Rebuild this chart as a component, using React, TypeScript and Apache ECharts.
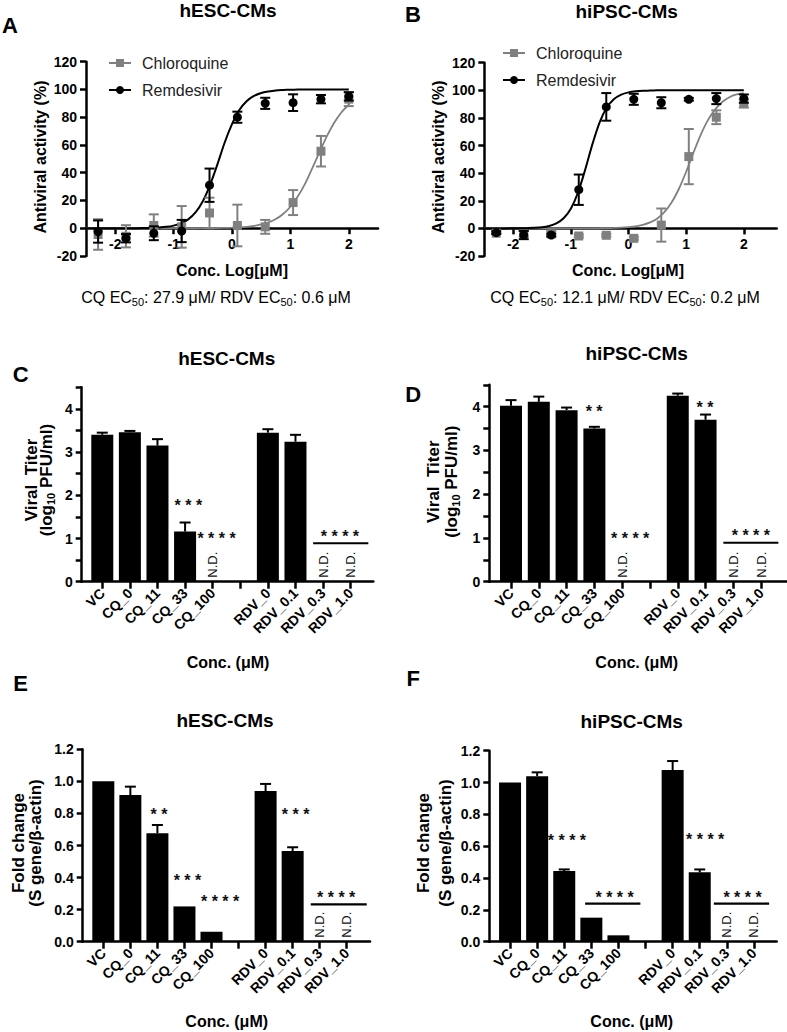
import React, { useEffect, useRef } from "react";
import * as echarts from "echarts";

const FONT = '"Liberation Sans", Arial, Helvetica, sans-serif';
const GRAY = "#808080";

// ---------- Panels A / B : dose response ----------
const LOG_CONC = [-2.293, -1.816, -1.339, -0.862, -0.385, 0.092, 0.569, 1.046, 1.523, 2.0];
const A_CQ_MEAN = [-4.5, -5.8, 2, 1, 11, 2, 1, 18.5, 55.5, 93];
const A_CQ_SD = [11, 8, 8, 15, 11, 15, 5, 9, 11, 5];
const A_RDV_MEAN = [-2.4, -7.2, -3.6, -2, 31, 80, 90, 90.5, 93, 95];
const A_RDV_SD = [8, 3, 5, 8, 12, 4, 4, 6, 3, 3];
const B_CQ_MEAN = [-3.5, -4, -4, -5.5, -5, -7.2, 2.4, 52, 80.5, 90.5];
const B_CQ_SD = [0, 2, 2, 1, 1, 1, 12, 20, 5, 3];
const B_RDV_MEAN = [-3.1, -4.8, -4.8, 28, 88, 93.5, 91, 93.5, 94, 94];
const B_RDV_SD = [1, 3, 1, 11, 10, 4, 4, 1, 4, 3];

// fitted curves
const FIT_X = [-2.5, -2.375, -2.25, -2.125, -2, -1.875, -1.75, -1.625, -1.5, -1.375, -1.25, -1.125, -1, -0.875, -0.75, -0.625, -0.5, -0.375, -0.25, -0.125, 0, 0.125, 0.25, 0.375, 0.5, 0.625, 0.75, 0.875, 1, 1.125, 1.25, 1.375, 1.5, 1.625, 1.75, 1.875, 2];
const A_CQ_FIT = [0, 0, 0, 0, 0, 0, 0, 0, 0, 0, 0, 0, 0, 0, 0, 0, 0.06, 0.1, 0.16, 0.26, 0.41, 0.66, 1.05, 1.7, 2.7, 4.2, 6.6, 10.3, 15.5, 22.8, 32, 43.3, 55, 66.4, 76, 83.6, 89];
const A_RDV_FIT = [0, 0, 0, 0, 0, 0.02, 0.04, 0.08, 0.15, 0.29, 0.54, 1.0, 1.9, 3.5, 6.4, 11.4, 19.5, 31.3, 46, 61.8, 75, 85.2, 91.5, 95.3, 97.5, 98.6, 99.3, 99.6, 99.8, 99.9, 100, 100, 100, 100, 100, 100, 100];
const B_CQ_FIT = [0, 0, 0, 0, 0, 0, 0, 0, 0, 0, 0, 0, 0, 0, 0.03, 0.06, 0.1, 0.17, 0.3, 0.5, 0.9, 1.5, 2.6, 4.3, 7.2, 11.9, 18.9, 28.7, 41, 54.6, 67.5, 78.2, 86, 91.5, 95, 97, 98];
const B_RDV_FIT = [0, 0, 0, 0, 0.04, 0.09, 0.2, 0.39, 0.8, 1.73, 3.6, 7.3, 14.2, 26, 42.6, 61, 76.8, 87.5, 93.7, 96.9, 98.5, 99.3, 99.7, 99.8, 100, 100, 100, 100, 100, 100, 100, 100, 100, 100, 100, 100, 100];
const LOG_TICKS = [-2, -1, 0, 1, 2];

// ---------- Panels C-F : bars ----------
const BAR_LABELS = ["VC", "CQ_0", "CQ_11", "CQ_33", "CQ_100", "", "RDV_0", "RDV_0.1", "RDV_0.3", "RDV_1.0"];

const C_MEAN = [3.40, 3.46, 3.15, 1.16, null, null, 3.45, 3.24, null, null];
const C_SD = [0.05, 0.03, 0.15, 0.21, null, null, 0.08, 0.16, null, null];
const C_STARS: [string, number, number][] = [["* * *", 3.12, 1.84], ["* * * *", 4.14, 1.08], ["* * * *", 8.61, 1.12]];
const C_LINES = [[7.64, 9.64, 0.89]];
const C_ND = [4, 8, 9];

const D_MEAN = [4.02, 4.11, 3.92, 3.50, null, null, 4.25, 3.70, null, null];
const D_SD = [0.13, 0.12, 0.06, 0.04, null, null, 0.05, 0.12, null, null];
const D_STARS: [string, number, number][] = [["* *", 2.99, 3.98], ["* * * *", 4.29, 1.07], ["* *", 6.98, 4.06], ["* * * *", 8.63, 1.13]];
const D_LINES = [[7.64, 9.62, 0.89]];
const D_ND = [4, 8, 9];

const E_MEAN = [1.0, 0.915, 0.676, 0.22, 0.062, null, 0.94, 0.566, null, null];
const E_SD = [0, 0.052, 0.052, 0, 0, null, 0.044, 0.023, null, null];
const E_STARS: [string, number, number][] = [["* *", 2.06, 0.817], ["* * *", 3.11, 0.405], ["* * * *", 4.32, 0.27], ["* * *", 7.11, 0.815], ["* * * *", 8.61, 0.30]];
const E_LINES = [[7.67, 9.74, 0.233]];
const E_ND = [8, 9];

const F_MEAN = [1.0, 1.04, 0.444, 0.151, 0.04, null, 1.078, 0.436, null, null];
const F_SD = [0, 0.024, 0.01, 0, 0, null, 0.057, 0.018, null, null];
const F_STARS: [string, number, number][] = [["* * * *", 2.1, 0.66], ["* * * *", 3.86, 0.30], ["* * * *", 7.2, 0.664], ["* * * *", 8.58, 0.30]];
const F_LINES = [[2.77, 4.81, 0.239], [7.52, 9.56, 0.239]];
const F_ND = [8, 9];

const AXIS_LINE = { show: true, onZero: false, lineStyle: { color: "#000", width: 2.5 } };
const AXIS_TICK = { show: true, length: 6, lineStyle: { color: "#000", width: 2.5 } };
const TICK_LABEL = { color: "#000", fontWeight: "bold" as const, fontSize: 14, fontFamily: FONT };

function errSeries(k: number, data: number[][], color: string, cap: number, both: boolean, z = 3) {
  return {
    type: "custom",
    xAxisIndex: k,
    yAxisIndex: k,
    silent: true,
    z,
    data,
    encode: { x: 0, y: [1, 2] },
    renderItem: (_p: any, api: any) => {
      const x = api.value(0);
      const a = api.coord([x, api.value(1)]);
      const b = api.coord([x, api.value(2)]);
      const st = { stroke: color, lineWidth: 2 };
      const children: any[] = [
        { type: "line", shape: { x1: a[0], y1: a[1], x2: b[0], y2: b[1] }, style: st },
        { type: "line", shape: { x1: b[0] - cap, y1: b[1], x2: b[0] + cap, y2: b[1] }, style: st },
      ];
      if (both) children.push({ type: "line", shape: { x1: a[0] - cap, y1: a[1], x2: a[0] + cap, y2: a[1] }, style: st });
      return { type: "group", children };
    },
  };
}

function doseSeries(k: number, cqMean: number[], cqSd: number[], rdvMean: number[], rdvSd: number[], cqFit: number[], rdvFit: number[]) {
  return [
    {
      type: "line", name: "Chloroquine", xAxisIndex: k, yAxisIndex: k,
      data: FIT_X.map((x, i) => [x, cqFit[i]]), smooth: 0.3,
      symbol: "rect", symbolSize: 9, showSymbol: false,
      lineStyle: { color: GRAY, width: 1.8 }, itemStyle: { color: GRAY }, z: 2,
    },
    {
      type: "line", name: "Remdesivir", xAxisIndex: k, yAxisIndex: k,
      data: FIT_X.map((x, i) => [x, rdvFit[i]]), smooth: 0.3,
      symbol: "circle", symbolSize: 9, showSymbol: false,
      lineStyle: { color: "#000", width: 2 }, itemStyle: { color: "#000" }, z: 2,
    },
    errSeries(k, LOG_CONC.map((x, i) => [x, cqMean[i] - cqSd[i], cqMean[i] + cqSd[i]]), GRAY, 5, true, 3),
    {
      type: "scatter", name: "CQ data", xAxisIndex: k, yAxisIndex: k, symbol: "rect", symbolSize: 9,
      data: LOG_CONC.map((x, i) => [x, cqMean[i]]), itemStyle: { color: GRAY, opacity: 1 }, z: 4,
    },
    errSeries(k, LOG_CONC.map((x, i) => [x, rdvMean[i] - rdvSd[i], rdvMean[i] + rdvSd[i]]), "#000", 5, true, 5),
    {
      type: "scatter", name: "RDV data", xAxisIndex: k, yAxisIndex: k, symbol: "circle", symbolSize: 9,
      data: LOG_CONC.map((x, i) => [x, rdvMean[i]]), itemStyle: { color: "#000", opacity: 1 }, z: 6,
    },
  ];
}

// main axes of a dose panel (x hidden, its visible copy lives in an axis-only grid ending at y = 0)
function doseAxes(k: number, kAxis: number, xMax: number) {
  return {
    x: { type: "value", gridIndex: k, min: -2.5, max: xMax, show: false },
    y: {
      type: "value", gridIndex: k, min: -20, max: 120, interval: 20,
      axisLine: AXIS_LINE, axisTick: AXIS_TICK,
      axisLabel: { ...TICK_LABEL, margin: 9 },
      splitLine: { show: false },
    },
    xVis: {
      type: "value", gridIndex: kAxis, min: -2.5, max: xMax,
      axisLine: AXIS_LINE,
      axisTick: { ...AXIS_TICK, customValues: LOG_TICKS },
      axisLabel: { ...TICK_LABEL, customValues: LOG_TICKS, margin: 9 },
      splitLine: { show: false },
    },
    yHidden: { type: "value", gridIndex: kAxis, min: 0, max: 1, show: false },
  };
}

function barPanel(
  k: number, xMin: number, xMax: number, yMax: number, yInterval: number, labelFmt: (v: number) => string,
  mean: (number | null)[], sd: (number | null)[], stars: [string, number, number][], lines: number[][], nd: number[]
) {
  const idx = BAR_LABELS.map((_, i) => i);
  const x = {
    type: "value", gridIndex: k, min: xMin, max: xMax,
    axisLine: AXIS_LINE,
    axisTick: { show: true, customValues: idx, length: 7, lineStyle: { color: "#000", width: 2.5 } },
    axisLabel: {
      customValues: idx, formatter: (v: number) => BAR_LABELS[Math.round(v)] ?? "",
      rotate: 45, color: "#000", fontWeight: "bold", fontSize: 14, fontFamily: FONT, margin: 9,
    },
    splitLine: { show: false },
  };
  const y = {
    type: "value", gridIndex: k, min: 0, max: yMax, interval: yInterval,
    axisLine: AXIS_LINE, axisTick: AXIS_TICK,
    axisLabel: { ...TICK_LABEL, margin: 9, formatter: labelFmt },
    splitLine: { show: false },
  };
  const barData: number[][] = [];
  const errData: number[][] = [];
  mean.forEach((m, i) => {
    if (m == null) return;
    barData.push([i, m]);
    const s = sd[i];
    if (s != null && s > 0) errData.push([i, m, m + s]);
  });
  const series: any[] = [
    {
      type: "bar", xAxisIndex: k, yAxisIndex: k, barWidth: 22, data: barData,
      itemStyle: { color: "#000" }, z: 2,
    },
    errSeries(k, errData, "#000", 5.5, false, 3),
    {
      type: "custom", xAxisIndex: k, yAxisIndex: k, silent: true, z: 4,
      data: stars.map((s) => [s[1], s[2]]),
      renderItem: (p: any, api: any) => {
        const c = api.coord([api.value(0), api.value(1)]);
        return {
          type: "text", x: c[0], y: c[1] + 3.5,
          style: {
            text: stars[p.dataIndex][0], font: `bold 16px ${FONT}`, fill: "#111",
            align: "center", verticalAlign: "middle", textAlign: "center", textVerticalAlign: "middle",
          },
        };
      },
    },
    {
      type: "custom", xAxisIndex: k, yAxisIndex: k, silent: true, z: 4,
      data: lines,
      encode: { x: [0, 1], y: 2 },
      renderItem: (_p: any, api: any) => {
        const a = api.coord([api.value(0), api.value(2)]);
        const b = api.coord([api.value(1), api.value(2)]);
        return { type: "line", shape: { x1: a[0], y1: a[1], x2: b[0], y2: b[1] }, style: { stroke: "#000", lineWidth: 2.2 } };
      },
    },
    {
      type: "custom", xAxisIndex: k, yAxisIndex: k, silent: true, z: 4,
      data: nd.map((i) => [i, 0]),
      renderItem: (_p: any, api: any) => {
        const c = api.coord([api.value(0), api.value(1)]);
        return {
          type: "text", x: c[0], y: c[1] - 4, rotation: Math.PI / 2,
          style: {
            text: "N.D.", font: `13px ${FONT}`, fill: "#111",
            align: "left", verticalAlign: "middle", textAlign: "left", textVerticalAlign: "middle",
          },
        };
      },
    },
  ];
  return { x, y, series };
}

function txt(text: string, x: number, y: number, size: number, bold: boolean, rotate = false, rich?: any) {
  const style: any = {
    text, font: `${bold ? "bold " : ""}${size}px ${FONT}`, fill: "#000",
    align: "center", verticalAlign: "middle", textAlign: "center", textVerticalAlign: "middle",
  };
  if (rich) {
    style.rich = rich;
    style.lineHeight = 20;
  }
  return { type: "text", x, y, rotation: rotate ? Math.PI / 2 : 0, style, silent: true };
}

const SUB_N = { s: { fontSize: 11, fontFamily: FONT, lineHeight: 10, verticalAlign: "bottom" } };
const SUB_B = { s: { fontSize: 11, fontWeight: "bold", fontFamily: FONT, lineHeight: 11, verticalAlign: "bottom" } };

function buildOption() {
  const grids = [
    { left: 86, top: 61.7, width: 292, height: 194.3 },
    { left: 484.3, top: 62.7, width: 292.4, height: 193.3 },
    { left: 81.7, top: 387.3, width: 291.6, height: 194.4 },
    { left: 489.3, top: 384.8, width: 297.4, height: 196.9 },
    { left: 82.7, top: 749.3, width: 287.3, height: 192.4 },
    { left: 489.3, top: 750.7, width: 287.4, height: 191 },
    { left: 86, top: 61.7, width: 292, height: 166.5 },
    { left: 484.3, top: 62.7, width: 292.4, height: 165.7 },
  ].map((g) => ({ ...g, containLabel: false, outerBoundsMode: "none" }));

  const a = doseAxes(0, 6, 2.5);
  const b = doseAxes(1, 7, 2.57);
  const intFmt = (v: number) => (Math.abs(v - Math.round(v)) < 1e-6 ? String(Math.round(v)) : "");
  const decFmt = (v: number) => v.toFixed(1);
  const c = barPanel(2, -0.746, 9.82, 4.5, 0.5, intFmt, C_MEAN, C_SD, C_STARS, C_LINES, C_ND);
  const d = barPanel(3, -0.781, 9.92, 4.5, 0.5, intFmt, D_MEAN, D_SD, D_STARS, D_LINES, D_ND);
  const e = barPanel(4, -0.762, 9.86, 1.2, 0.2, decFmt, E_MEAN, E_SD, E_STARS, E_LINES, E_ND);
  const f = barPanel(5, -0.766, 9.84, 1.2, 0.2, decFmt, F_MEAN, F_SD, F_STARS, F_LINES, F_ND);

  const legendBase = {
    orient: "vertical", itemWidth: 22, itemHeight: 10, itemGap: 11,
    textStyle: { fontSize: 16, fontFamily: FONT, color: "#222", padding: [0, 0, 0, 6] },
    data: ["Chloroquine", "Remdesivir"], selectedMode: false,
  };

  const graphics = [
    txt("A", 10, 25, 22, true), txt("B", 413, 14, 22, true), txt("C", 20.7, 374, 22, true),
    txt("D", 413.3, 394.3, 22, true), txt("E", 20.7, 683.3, 22, true), txt("F", 413.3, 678.3, 22, true),
    txt("hESC-CMs", 228, 10, 19, true), txt("hiPSC-CMs", 626.7, 11, 19, true),
    txt("hESC-CMs", 226.7, 358.3, 19, true), txt("hiPSC-CMs", 636.7, 353.3, 19, true),
    txt("hESC-CMs", 225, 720, 19, true), txt("hiPSC-CMs", 631.7, 721.7, 19, true),
    txt("Antiviral activity (%)", 40, 157, 16, true, true), txt("Antiviral activity (%)", 438.3, 157, 16, true, true),
    txt("Conc. Log[μM]", 232, 270, 16, true), txt("Conc. Log[μM]", 628, 270, 16, true),
    txt("CQ EC{s|50}: 27.9 μM/ RDV EC{s|50}: 0.6 μM", 216, 297, 16, false, false, SUB_N),
    txt("CQ EC{s|50}: 12.1 μM/ RDV EC{s|50}: 0.2 μM", 625, 297, 16, false, false, SUB_N),
    txt("Viral  Titer", 31.7, 480, 17, true, true), txt("(log{s|10} PFU/ml)", 46.7, 480, 17, true, true, SUB_B),
    txt("Viral  Titer", 433.3, 481.7, 17, true, true), txt("(log{s|10} PFU/ml)", 451.7, 481.7, 17, true, true, SUB_B),
    txt("Conc. (μM)", 228, 662, 16, true), txt("Conc. (μM)", 636.7, 662, 16, true),
    txt("Fold change", 18.3, 843, 17, true, true), txt("(S gene/β-actin)", 35, 843, 17, true, true),
    txt("Fold change", 423.3, 843, 17, true, true), txt("(S gene/β-actin)", 445, 843, 17, true, true),
    txt("Conc. (μM)", 226.7, 1021.7, 16, true), txt("Conc. (μM)", 631.7, 1021.7, 16, true),
  ];

  return {
    animation: false,
    backgroundColor: "#fff",
    textStyle: { fontFamily: FONT },
    grid: grids,
    legend: [
      { ...legendBase, left: 103, top: 50 },
      { ...legendBase, left: 497, top: 40 },
    ],
    xAxis: [a.x, b.x, c.x, d.x, e.x, f.x, a.xVis, b.xVis],
    yAxis: [a.y, b.y, c.y, d.y, e.y, f.y, a.yHidden, b.yHidden],
    series: [
      ...doseSeries(0, A_CQ_MEAN, A_CQ_SD, A_RDV_MEAN, A_RDV_SD, A_CQ_FIT, A_RDV_FIT),
      ...doseSeries(1, B_CQ_MEAN, B_CQ_SD, B_RDV_MEAN, B_RDV_SD, B_CQ_FIT, B_RDV_FIT),
      ...c.series, ...d.series, ...e.series, ...f.series,
    ],
    graphic: graphics,
  };
}

export default function App() {
  const ref = useRef<HTMLDivElement>(null);
  useEffect(() => {
    document.body.style.margin = "0";
    const chart = echarts.init(ref.current!, null, { renderer: "svg", width: 787, height: 1032 });
    chart.setOption(buildOption() as any);
    return () => chart.dispose();
  }, []);
  return <div ref={ref} style={{ width: 787, height: 1032, background: "#fff" }} />;
}
